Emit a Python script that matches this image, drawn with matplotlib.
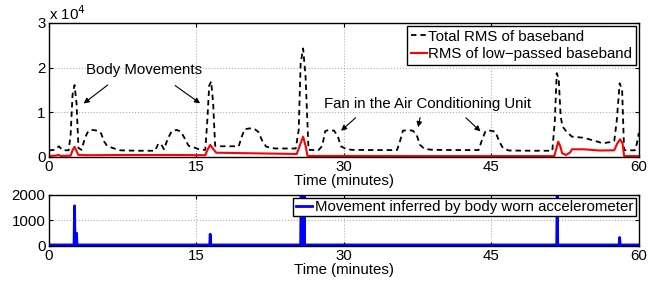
import matplotlib
matplotlib.use('Agg')
import matplotlib.pyplot as plt
from matplotlib.ticker import FuncFormatter

plt.rcParams['font.family'] = ['Liberation Sans', 'DejaVu Sans']
plt.rcParams['font.size'] = 10.8

# Total RMS of baseband (time in minutes, value)
total_t = [0, 0.6, 1.0, 1.4, 2.0, 2.2, 2.4, 2.6, 2.8, 3.0, 3.3, 3.7, 4.0, 4.4, 4.9, 5.3, 5.6, 5.9,
           6.5, 7.2, 9.0, 10.8, 11.1, 11.4, 11.7, 12.1, 12.5, 13.0, 13.4, 13.8, 14.2, 14.8, 15.4,
           15.9, 16.1, 16.3, 16.5, 16.7, 16.9, 17.5, 19.3, 19.6, 19.9, 20.4, 20.9, 21.3, 21.7, 22.1,
           23.0, 25.1, 25.4, 25.6, 25.85, 26.1, 26.4, 27.4, 27.8, 28.1, 28.5, 29.0, 29.4, 29.7,
           30.2, 30.8, 33.0, 35.4, 35.7, 36.0, 36.5, 37.0, 37.4, 37.7, 38.1, 38.6, 39.0, 41.0, 43.7,
           44.0, 44.4, 44.9, 45.4, 45.8, 46.2, 46.8, 49.0, 51.2, 51.45, 51.65, 51.85, 52.05, 52.25,
           52.7, 53.2, 54.4, 55.8, 56.3, 57.0, 57.5, 57.75, 58.05, 58.3, 58.5, 59.0, 59.6, 59.8, 60]
total_rms = [1500, 1600, 2400, 1500, 1500, 5000, 14000, 16100, 12000, 2000, 1600, 4500, 5800, 6050, 5900, 5300, 3500, 2500,
             2000, 1500, 1400, 1400, 2900, 2900, 1700, 4200, 5800, 6050, 5700, 4200, 2500, 2100, 1600,
             1600, 8000, 16000, 16900, 12000, 2500, 2400, 2400, 4500, 6200, 6400, 6300, 5600, 3600, 2300,
             1900, 1900, 6000, 21000, 24300, 18000, 1600, 1500, 2500, 5800, 6050, 5900, 4500, 2400,
             1800, 1600, 1550, 1550, 3500, 5900, 6000, 5900, 5000, 2800, 2000, 1700, 1600, 1550, 1550,
             3500, 5800, 5900, 5670, 3500, 1900, 1450, 1400, 1400, 8000, 18750, 17500, 9000, 6790,
             5500, 4550, 4300, 3430, 3070, 3300, 3600, 8000, 16500, 15000, 1570, 1500, 1500, 3000, 5400]

# RMS of low-passed baseband
low_t = [0, 0.7, 0.95, 1.2, 2.2, 2.4, 2.6, 2.8, 3.0, 4.0, 8.0, 12.0, 15.9, 16.1, 16.4, 16.7, 17.0, 20.0,
         25.2, 25.5, 25.85, 26.1, 26.3, 30.0, 40.0, 51.4, 51.6, 51.8, 52.0, 52.2, 52.6, 53.0, 53.2,
         54.4, 56.0, 57.5, 57.8, 58.1, 58.35, 58.5, 60]
low_rms = [250, 300, 480, 250, 300, 1500, 2300, 1300, 450, 400, 450, 450, 400, 1500, 2700, 1800, 960, 850,
           670, 2500, 4550, 2500, 220, 220, 200, 200, 1800, 3430, 2500, 830, 450, 1000, 1720,
           1720, 1450, 1500, 3000, 3960, 3000, 200, 200]

# Movement inferred by body worn accelerometer
acc_t = [0, 2.55, 2.6, 2.65, 2.75, 2.8, 2.85, 16.35, 16.4, 16.45, 25.6, 25.65, 25.7, 25.75, 25.8,
         25.85, 25.9, 25.95, 26.0, 51.65, 51.7, 51.75, 58.0, 58.05, 58.1, 60]
acc = [40, 40, 1570, 40, 40, 500, 40, 40, 460, 40, 40, 2600, 40, 3000, 40,
       2800, 40, 2500, 40, 40, 3000, 40, 40, 330, 40, 40]

fig = plt.figure(figsize=(6.62, 2.87), dpi=100)
ax1 = fig.add_axes([0.074, 0.453, 0.891, 0.467])
ax2 = fig.add_axes([0.074, 0.143, 0.891, 0.178])

ax1.plot(total_t, total_rms, color='k', lw=1.3, ls=(0, (3, 2.2)), label='Total RMS of baseband')
ax1.plot(low_t, low_rms, color='r', lw=1.5, label='RMS of low\u2212passed baseband')
ax1.set_xlim(0, 60)
ax1.set_ylim(0, 30000)
ax1.set_xticks([0, 15, 30, 45, 60])
ax1.set_yticks([0, 10000, 20000, 30000])
ax1.yaxis.set_major_formatter(FuncFormatter(lambda v, p: '%d' % round(v / 10000)))
ax1.text(0.0, 1.0, 'x 10$^{4}$', transform=ax1.transAxes, ha='left', va='bottom', fontsize=10.8)
ax1.set_xlabel('Time (minutes)', labelpad=0)
ax1.legend(loc='upper right', fancybox=False, edgecolor='k', framealpha=1, handlelength=1.05,
           handletextpad=0.1, borderpad=0.25, borderaxespad=0.2, labelspacing=0.25)

arrow = dict(arrowstyle='-|>', color='k', lw=0.8, mutation_scale=8)
ax1.text(9.7, 19500, 'Body Movements', ha='center', va='center')
ax1.annotate('', xy=(3.3, 11600), xytext=(6.2, 16500), arrowprops=arrow)
ax1.annotate('', xy=(15.6, 11650), xytext=(12.6, 16350), arrowprops=arrow)
ax1.text(38.55, 11900, 'Fan in the Air Conditioning Unit', ha='center', va='center')
ax1.annotate('', xy=(29.5, 5450), xytext=(31.4, 9200), arrowprops=arrow)
ax1.annotate('', xy=(37.5, 6050), xytext=(37.8, 9400), arrowprops=arrow)
ax1.annotate('', xy=(44.1, 5300), xytext=(42.2, 9200), arrowprops=arrow)

ax2.plot(acc_t, acc, color='b', lw=2.0, label='Movement inferred by body worn accelerometer')
ax2.set_xlim(0, 60)
ax2.set_ylim(0, 2000)
ax2.set_xticks([0, 15, 30, 45, 60])
ax2.set_yticks([0, 1000, 2000])
ax2.set_xlabel('Time (minutes)', labelpad=0)
ax2.legend(loc='upper right', fancybox=False, edgecolor='k', framealpha=1, handlelength=1.1,
           handletextpad=0.2, borderpad=0.15, borderaxespad=0.2)

for ax in (ax1, ax2):
    ax.grid(True, color='#b0b0b0', ls=':', lw=0.8)
    ax.tick_params(direction='in', top=True, right=True, length=3)
    ax.tick_params(axis='x', pad=2.5)
    ax.tick_params(axis='y', pad=2.5)
    for s in ax.spines.values():
        s.set_linewidth(1.0)

plt.savefig('out.png', dpi=100)
